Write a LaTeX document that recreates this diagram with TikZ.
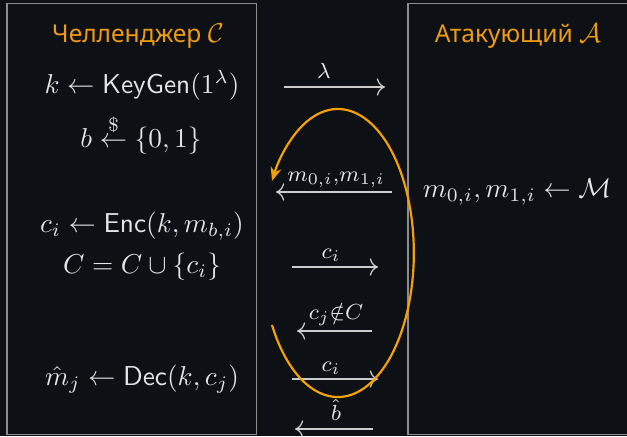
\documentclass[tikz,border=0pt]{standalone}
\usepackage{amssymb}
\usepackage{fontspec}
\newfontfamily\titlefont{Noto Sans}
\usetikzlibrary{arrows.meta}
\definecolor{bgc}{RGB}{13,16,20}
\definecolor{fgc}{RGB}{228,228,228}
\definecolor{linec}{RGB}{205,205,205}
\definecolor{boxc}{RGB}{140,140,140}
\definecolor{orc}{RGB}{245,162,0}
\definecolor{titc}{RGB}{238,155,20}
\tikzset{
  panel/.style={draw=boxc, line width=0.6pt},
  titlestyle/.style={text=titc, font=\titlefont\fontsize{9}{11}\selectfont, anchor=base, inner sep=0pt},
  eq/.style={text=fgc, anchor=base, inner sep=0pt},
  lbl/.style={text=fgc, anchor=base, inner sep=0pt, font=\fontsize{12}{14}\selectfont},
  msg/.style={draw=linec, line width=0.45pt, -{To[length=3pt]}},
  loopc/.style={draw=orc, line width=0.8pt, -{Stealth[length=5pt,width=4pt]}}
}
\begin{document}
\begin{tikzpicture}[x=0.366pt,y=-0.366pt]
\fill[bgc] (0,0) rectangle (627,436);
\useasboundingbox (0,0) rectangle (627,436);
% panels
\draw[panel] (7,3.5) rectangle (256.5,434.5);
\draw[panel] (408,3.5) rectangle (632,434.5);
% titles
\node[titlestyle] (tc) at (138,42) {Челленджер {\fontsize{10}{12}\selectfont$\mathcal{C}$}};
\node[titlestyle] (ta) at (518,42) {Атакующий {\fontsize{10}{12}\selectfont$\mathcal{A}$}};
% challenger lines
\node[eq] (e1) at (142,93) {$k \gets \mathsf{KeyGen}(1^\lambda)$};
\node[eq] (e2) at (141,147) {$b \stackrel{\$}{\gets} \{0,1\}$};
\node[eq] (e3) at (142,232) {$c_i \gets \mathsf{Enc}(k, m_{b,i})$};
\node[eq] (e4) at (142,273) {$C = C \cup \{c_i\}$};
\node[eq] (e5) at (142,385) {$\hat{m}_j \gets \mathsf{Dec}(k, c_j)$};
% adversary
\node[eq] (e6) at (517,197) {$m_{0,i}, m_{1,i} \gets \mathcal{M}$};
% message arrows
\coordinate (a1s) at (284,87);  \coordinate (a1e) at (385,87);
\coordinate (a2s) at (392,192); \coordinate (a2e) at (276,192);
\coordinate (a3s) at (292,267); \coordinate (a3e) at (378,267);
\coordinate (a4s) at (372,331); \coordinate (a4e) at (297,331);
\coordinate (a5s) at (292,379); \coordinate (a5e) at (378,379);
\coordinate (a6s) at (373,429); \coordinate (a6e) at (295,429);
\draw[msg] (a1s) -- (a1e);
\draw[msg] (a2s) -- (a2e);
\draw[msg] (a3s) -- (a3e);
\draw[msg] (a4s) -- (a4e);
\draw[msg] (a5s) -- (a5e);
\draw[msg] (a6s) -- (a6e);
\node[lbl] (l1) at (324,78) {$\scriptstyle\lambda$};
\node[lbl] (l2) at (336,181) {$\scriptstyle m_{0,i},m_{1,i}$};
\node[lbl] (l3) at (331,258) {$\scriptstyle c_i$};
\node[lbl] (l4) at (336,319) {$\scriptstyle c_j\notin C$};
\node[lbl] (l5) at (331,371) {$\scriptstyle c_i$};
\node[lbl] (l6) at (336,420) {$\scriptstyle\hat{b}$};
% loop
\coordinate (ls) at (272,325);
\draw[loopc] (ls) arc[start angle=150, end angle=-150, x radius=76, y radius=144];
\end{tikzpicture}
\end{document}
